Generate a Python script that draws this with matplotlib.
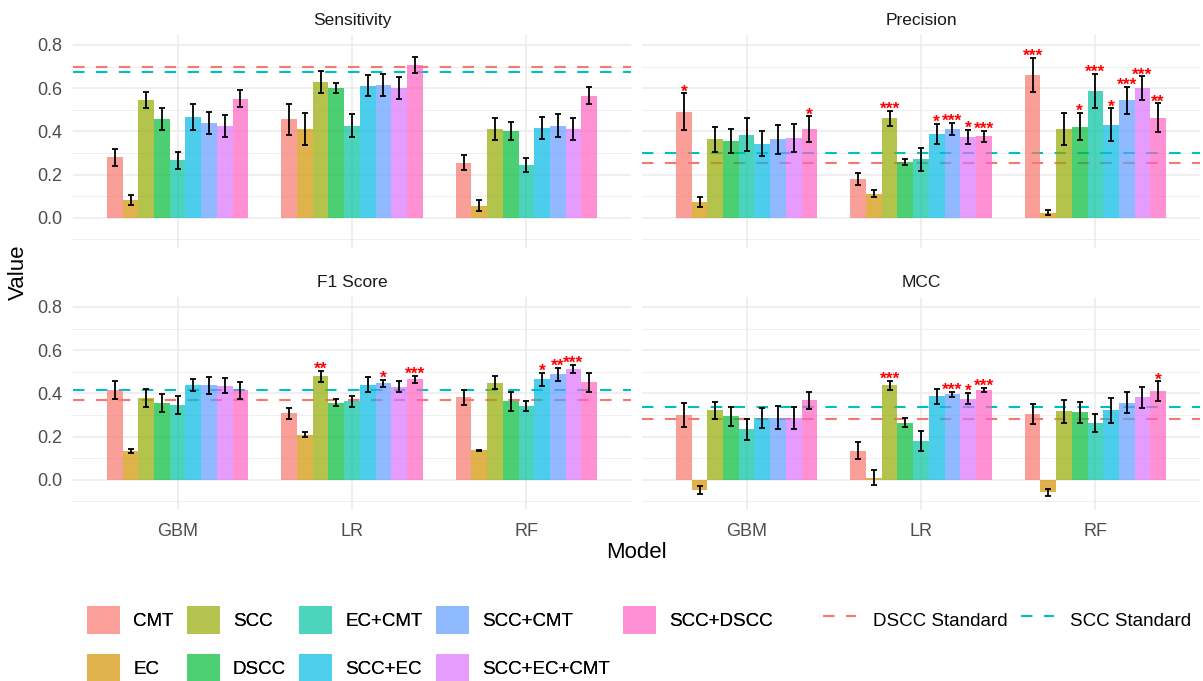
import numpy as np
import matplotlib.pyplot as plt
from matplotlib.patches import Patch
from matplotlib.lines import Line2D
from matplotlib.colors import to_rgb

plt.rcParams['font.family'] = ['Liberation Sans', 'DejaVu Sans']

models = ['GBM', 'LR', 'RF']
groups = ['CMT', 'EC', 'SCC', 'DSCC', 'EC+CMT', 'SCC+EC', 'SCC+CMT', 'SCC+EC+CMT', 'SCC+DSCC']
colors = ['#F8766D', '#D39200', '#93AA00', '#00BA38', '#00C19F',
          '#00B9E3', '#619CFF', '#DB72FB', '#FF61C3']
metrics = ['Sensitivity', 'Precision', 'F1 Score', 'MCC']

# mean values, one row per model (GBM, LR, RF), columns follow groups
sens_mean = [[0.280, 0.082, 0.547, 0.457, 0.266, 0.466, 0.439, 0.426, 0.551],
             [0.456, 0.410, 0.629, 0.601, 0.425, 0.612, 0.615, 0.600, 0.709],
             [0.255, 0.056, 0.412, 0.403, 0.243, 0.415, 0.426, 0.412, 0.564]]
sens_sd = [[0.039, 0.025, 0.037, 0.049, 0.039, 0.060, 0.051, 0.051, 0.040],
           [0.072, 0.074, 0.051, 0.025, 0.053, 0.050, 0.052, 0.052, 0.037],
           [0.036, 0.026, 0.050, 0.042, 0.033, 0.050, 0.052, 0.050, 0.039]]

prec_mean = [[0.490, 0.073, 0.363, 0.354, 0.385, 0.343, 0.364, 0.369, 0.411],
             [0.179, 0.111, 0.460, 0.258, 0.270, 0.388, 0.412, 0.374, 0.377],
             [0.660, 0.023, 0.411, 0.422, 0.587, 0.430, 0.544, 0.600, 0.463]]
prec_sd = [[0.086, 0.023, 0.058, 0.055, 0.075, 0.058, 0.067, 0.066, 0.059],
           [0.027, 0.016, 0.034, 0.015, 0.052, 0.047, 0.027, 0.033, 0.025],
           [0.079, 0.011, 0.074, 0.063, 0.080, 0.077, 0.063, 0.055, 0.066]]

f1_mean = [[0.415, 0.133, 0.378, 0.356, 0.347, 0.440, 0.438, 0.436, 0.415],
           [0.307, 0.208, 0.478, 0.357, 0.364, 0.440, 0.446, 0.430, 0.466],
           [0.382, 0.136, 0.450, 0.364, 0.341, 0.466, 0.489, 0.512, 0.452]]
f1_sd = [[0.041, 0.010, 0.040, 0.042, 0.041, 0.027, 0.039, 0.034, 0.039],
         [0.027, 0.011, 0.026, 0.017, 0.025, 0.035, 0.016, 0.026, 0.016],
         [0.034, 0.003, 0.030, 0.044, 0.024, 0.030, 0.030, 0.019, 0.044]]

mcc_mean = [[0.298, -0.049, 0.322, 0.293, 0.233, 0.287, 0.287, 0.287, 0.367],
            [0.134, 0.010, 0.438, 0.264, 0.179, 0.387, 0.396, 0.376, 0.416],
            [0.305, -0.058, 0.316, 0.312, 0.262, 0.321, 0.356, 0.381, 0.410]]
mcc_sd = [[0.056, 0.018, 0.039, 0.045, 0.049, 0.047, 0.054, 0.052, 0.040],
          [0.039, 0.035, 0.021, 0.020, 0.048, 0.035, 0.012, 0.026, 0.008],
          [0.048, 0.015, 0.052, 0.050, 0.041, 0.056, 0.048, 0.048, 0.046]]

# significance marks
prec_stars = [['*', '', '', '', '', '', '', '', '*'],
              ['', '', '***', '', '', '*', '***', '*', '***'],
              ['***', '', '', '*', '***', '*', '***', '***', '**']]
f1_stars = [['', '', '', '', '', '', '', '', ''],
            ['', '', '**', '', '', '', '*', '', '***'],
            ['', '', '', '', '', '*', '**', '***', '']]
mcc_stars = [['', '', '', '', '', '', '', '', ''],
             ['', '', '***', '', '', '', '***', '*', '***'],
             ['', '', '', '', '', '', '', '', '*']]
no_stars = [[''] * 9 for _ in models]

# reference standards per metric
dscc_standard = [0.700, 0.253, 0.370, 0.282]
scc_standard = [0.675, 0.301, 0.416, 0.336]

means = [sens_mean, prec_mean, f1_mean, mcc_mean]
sds = [sens_sd, prec_sd, f1_sd, mcc_sd]
stars = [no_stars, prec_stars, f1_stars, mcc_stars]

W, H = 1203, 681
fig = plt.figure(figsize=(W / 100, H / 100), dpi=100)

panel_x = [73, 642]
panel_y = [35, 297]
panel_w, panel_h = 558, 213

grid_col = '#EBEBEB'
bar_w = 0.09
alpha = 0.7
x = np.arange(len(models)) + 1

for k, metric in enumerate(metrics):
    r, c = divmod(k, 2)
    ax = fig.add_axes([panel_x[c] / W, 1 - (panel_y[r] + panel_h) / H, panel_w / W, panel_h / H])
    ax.set_xlim(0.4, 3.6)
    ax.set_ylim(-0.14, 0.846)
    for sp in ax.spines.values():
        sp.set_visible(False)
    ax.set_yticks([0, 0.2, 0.4, 0.6, 0.8])
    ax.set_yticks([-0.1, 0.1, 0.3, 0.5, 0.7], minor=True)
    ax.set_xticks(x)
    ax.grid(True, which='major', color=grid_col, lw=1.1, zorder=0)
    ax.grid(True, which='minor', axis='y', color=grid_col, lw=0.55, zorder=0)
    ax.set_axisbelow(True)
    ax.tick_params(which='both', length=0, labelsize=13, labelcolor='#4D4D4D')
    ax.tick_params(axis='y', pad=8)
    ax.tick_params(axis='x', pad=9)
    if c == 0:
        ax.set_yticklabels(['0.0', '0.2', '0.4', '0.6', '0.8'])
    else:
        ax.set_yticklabels([])
    if r == 1:
        ax.set_xticklabels(models)
    else:
        ax.set_xticklabels([])
    ax.set_title(metric, fontsize=12.5, color='#1A1A1A', pad=7.5)

    ax.axhline(dscc_standard[k], color='#F8766D', lw=1.5, ls=(0, (5.5, 5.5)), zorder=1)
    ax.axhline(scc_standard[k], color='#00BFC4', lw=1.5, ls=(0, (5.5, 5.5)), zorder=1)

    m = np.array(means[k])
    s = np.array(sds[k])
    for j, g in enumerate(groups):
        xj = x + (j - 4) * bar_w
        ax.bar(xj, m[:, j], width=bar_w, color=colors[j], alpha=alpha, lw=0, zorder=2)
        ax.errorbar(xj, m[:, j], yerr=s[:, j], fmt='none', ecolor='black',
                    elinewidth=1.3, capsize=2.2, capthick=1.3, zorder=3)
        for i in range(len(models)):
            lab = stars[k][i][j]
            if lab:
                ax.annotate(lab, xy=(xj[i], m[i, j] + s[i, j]), xytext=(0, -2.2),
                            textcoords='offset points', ha='center', va='baseline',
                            color='red', fontsize=12.5, fontweight='bold', zorder=4)

fig.text((73 + 1200) / 2 / W, 1 - 552 / H, 'Model', ha='center', va='center', fontsize=16)
fig.text(18 / W, 1 - 272 / H, 'Value', ha='center', va='center', rotation=90, fontsize=16)

# legend keys: same translucent fill as the bars, pre-blended on white
key_colors = [tuple(alpha * np.array(to_rgb(col)) + (1 - alpha)) for col in colors]
fill_handles = [Patch(facecolor=kc, edgecolor='none', lw=0) for kc in key_colors]
leg1 = fig.legend(fill_handles, groups, ncol=5, loc='upper left',
                  bbox_to_anchor=(87 / W, 1 - 606 / H), frameon=False, fontsize=13.5,
                  handlelength=1.76, handleheight=1.9, handletextpad=0.7,
                  columnspacing=0.7, labelspacing=1.1, borderpad=0, borderaxespad=0)
line_handles = [Line2D([], [], color='#F8766D', lw=1.5, ls=(0, (5.5, 5.5))),
                Line2D([], [], color='#00BFC4', lw=1.5, ls=(0, (5.5, 5.5)))]
fig.legend(line_handles, ['DSCC Standard', 'SCC Standard'], ncol=2, loc='upper left',
           bbox_to_anchor=(823 / W, 1 - 606 / H), frameon=False, fontsize=13.5,
           handlelength=1.76, handleheight=1.9, handletextpad=0.9,
           columnspacing=0.7, borderpad=0, borderaxespad=0)
fig.add_artist(leg1)

fig.savefig('out.png', dpi=100)
